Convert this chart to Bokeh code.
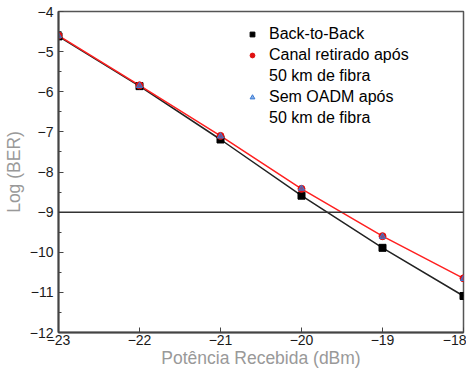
from bokeh.plotting import figure
from bokeh.models import Range1d, FixedTicker, Legend, LegendItem, Span
from bokeh.embed import file_html
from bokeh.resources import INLINE

power = [-23, -22, -21, -20, -19, -18]
b2b = [-4.62, -5.86, -7.19, -8.59, -9.89, -11.09]
canal = [-4.60, -5.84, -7.10, -8.42, -9.60, -10.65]
sem_oadm = [-4.61, -5.85, -7.11, -8.41, -9.61, -10.66]
threshold = -9
x_ticks = [-23, -22, -21, -20, -19, -18]
y_ticks = [-12, -11, -10, -9, -8, -7, -6, -5, -4]

FONT = "Liberation Sans"

p = figure(width=466, height=370, output_backend="svg", toolbar_location=None,
           x_range=Range1d(-23, -18), y_range=Range1d(-12, -4),
           min_border_left=58, min_border_right=3, min_border_top=11, min_border_bottom=33)
p.grid.visible = False
p.outline_line_color = "#555555"
p.outline_line_width = 1.5

p.xaxis.ticker = FixedTicker(ticks=x_ticks)
p.yaxis.ticker = FixedTicker(ticks=y_ticks,
                             minor_ticks=[-12 + 0.5 * i for i in range(17)])
for ax in (p.xaxis[0], p.yaxis[0]):
    ax.axis_line_color = "#444444"
    ax.axis_line_width = 2
    ax.major_tick_line_color = "#444444"
    ax.minor_tick_line_color = "#444444"
    ax.major_tick_in = 5
    ax.major_tick_out = 0
    ax.minor_tick_in = 3
    ax.minor_tick_out = 0
    ax.major_label_text_font = FONT
    ax.major_label_text_font_size = "14px"
    ax.major_label_text_color = "#1a1a1a"
    ax.axis_label_text_font = FONT
    ax.axis_label_text_font_size = "17.5px"
    ax.axis_label_text_font_style = "normal"
    ax.axis_label_text_color = "#999999"
p.xaxis.major_label_standoff = 2
p.yaxis.major_label_standoff = 5
p.xaxis.axis_label_standoff = 0
p.yaxis.axis_label_standoff = 3
p.xaxis.minor_tick_line_color = None
p.xaxis.axis_label = "Potência Recebida (dBm)"
p.yaxis.axis_label = "Log (BER)"

p.add_layout(Span(location=threshold, dimension="width", line_color="#333333", line_width=1.5))

l1 = p.line(power, b2b, line_color="#222222", line_width=1.5)
l2 = p.line(power, canal, line_color="#ff2020", line_width=1.5)
m1 = p.scatter(power, b2b, marker="square", size=7, fill_color="black", line_color="black")
m2 = p.scatter(power, canal, marker="circle", size=7, fill_color="#e01010", line_color="#e01010")
m3 = p.scatter(power, sem_oadm, marker="triangle", size=6, fill_color="#3a7bd5",
               line_color="#3a7bd5", fill_alpha=0.6)

legend = Legend(items=[
    LegendItem(label="Back-to-Back", renderers=[m1]),
    LegendItem(label="Canal retirado após", renderers=[m2]),
    LegendItem(label="50 km de fibra", renderers=[]),
    LegendItem(label="Sem OADM após", renderers=[m3]),
    LegendItem(label="50 km de fibra", renderers=[]),
], location=(188, 204))
legend.border_line_color = None
legend.background_fill_alpha = 0
legend.label_text_font = FONT
legend.label_text_font_size = "16px"
legend.label_text_color = "#000000"
legend.label_height = 21
legend.glyph_height = 12
legend.glyph_width = 12
legend.label_standoff = 11
legend.spacing = 0
legend.margin = 0
legend.padding = 4
p.add_layout(legend)

open("out.html", "w").write(file_html(p, INLINE))
